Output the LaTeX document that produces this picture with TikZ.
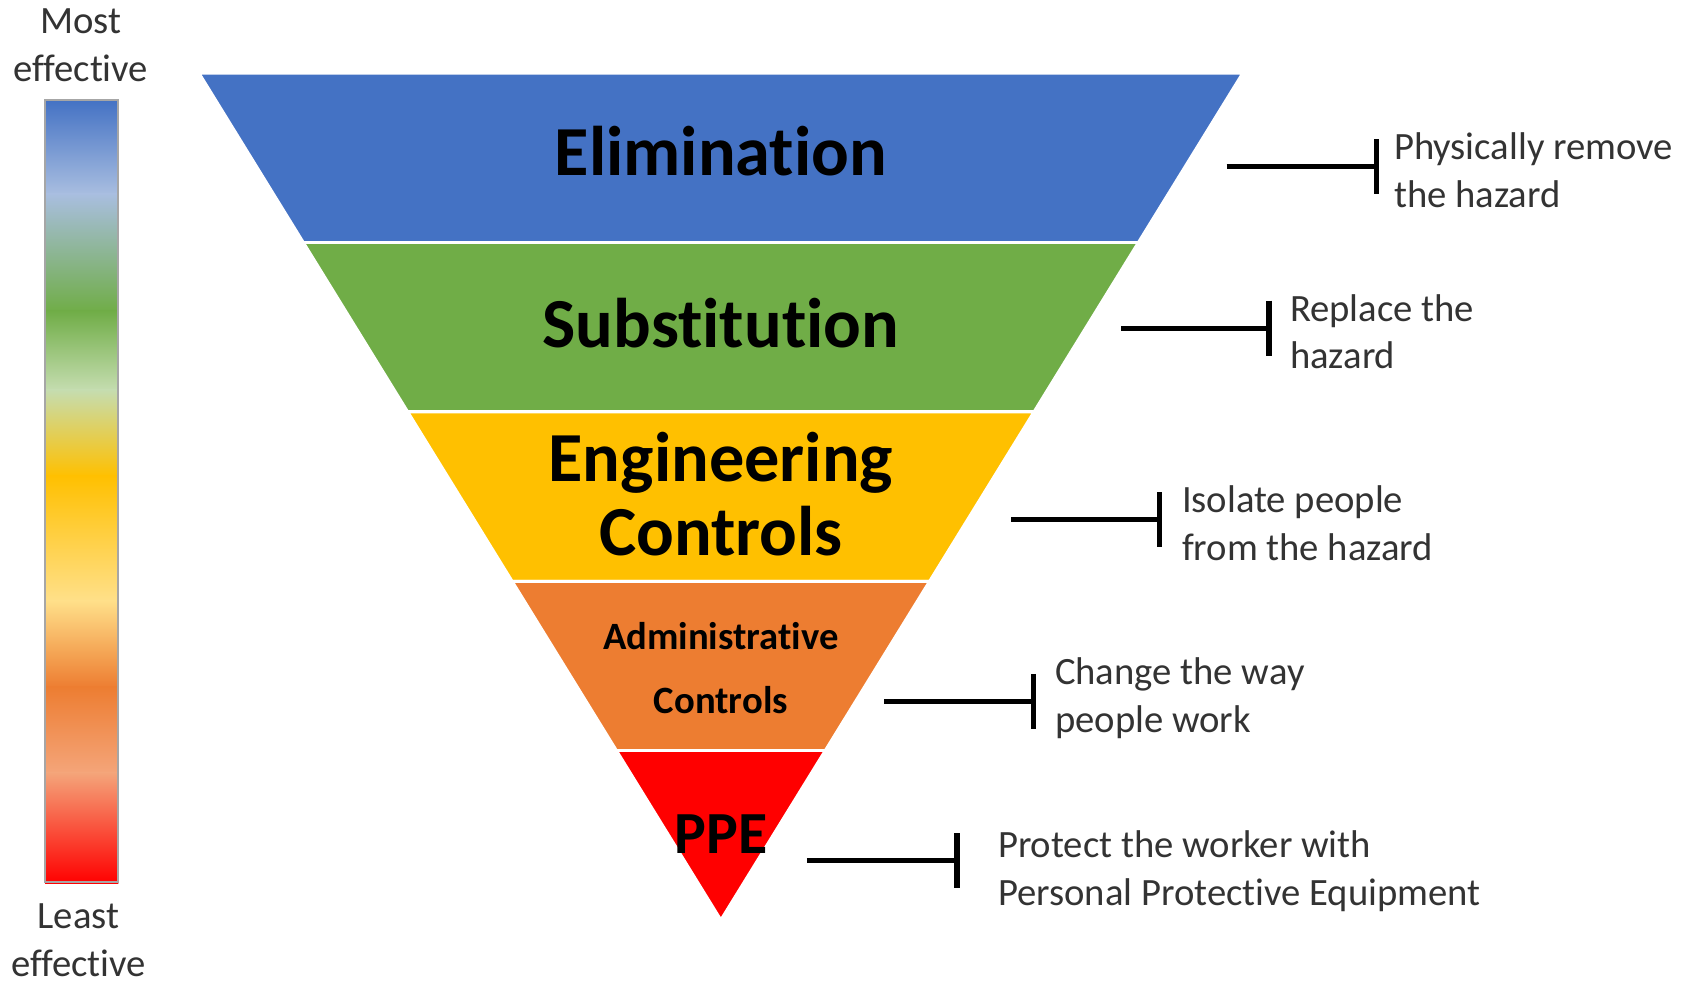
\documentclass[tikz,border=0pt]{standalone}
\usepackage{fontspec}
\setmainfont{Carlito}[Ligatures=NoCommon]
\usepackage{xcolor}
\usepackage{tikz}
\usetikzlibrary{arrows.meta,positioning,calc}

\definecolor{hblue}{HTML}{4472C4}
\definecolor{hgreen}{HTML}{70AD47}
\definecolor{hgold}{HTML}{FFC000}
\definecolor{horange}{HTML}{ED7D31}
\definecolor{hred}{HTML}{FF0000}
\definecolor{hpaleblue}{HTML}{A9BEE0}
\definecolor{hpalegreen}{HTML}{C5DDB0}
\definecolor{hpaleyellow}{HTML}{FFE08A}
\definecolor{hsalmon}{HTML}{F4A57A}

\begin{document}
\begin{tikzpicture}[
    x=0.010759cm, y=-0.010759cm,
    band/.style={draw=white, line width=0.8pt, line join=round},
    bandlabel/.style={align=center, font=\bfseries\fontsize{20}{21}\selectfont, inner sep=0pt},
    smalllabel/.style={align=center, font=\bfseries\fontsize{11}{18}\selectfont, inner sep=0pt},
    note/.style={align=left, inner sep=0pt, text=black!80, font=\fontsize{11}{13.5}\selectfont},
    scale label/.style={align=center, inner sep=0pt, text=black!80, font=\fontsize{11}{13.5}\selectfont},
    barline/.style={-{Bar[width=0.55cm]}, line width=1.5pt, draw=black}
]
    \useasboundingbox (0,0) rectangle (1568,913);

    % hierarchy triangle
    \coordinate (tl) at (185,68);
    \coordinate (tr) at (1155,68);
    \coordinate (apex) at (670,855);
    \foreach \t/\n in {0.2/1,0.4/2,0.6/3,0.8/4} {
        \coordinate (l\n) at ($(tl)!\t!(apex)$);
        \coordinate (r\n) at ($(tr)!\t!(apex)$);
    }
    \fill [band, fill=hblue] (tl) -- (tr) -- (r1) -- (l1) -- cycle;
    \fill [band, fill=hgreen] (l1) -- (r1) -- (r2) -- (l2) -- cycle;
    \fill [band, fill=hgold] (l2) -- (r2) -- (r3) -- (l3) -- cycle;
    \fill [band, fill=horange] (l3) -- (r3) -- (r4) -- (l4) -- cycle;
    \fill [band, fill=hred] (l4) -- (r4) -- (apex) -- cycle;
    \draw [band] (l1) -- (r1) (l2) -- (r2) (l3) -- (r3) (l4) -- (r4);

    \node [bandlabel] (elim) at (670,140) {Elimination};
    \node [bandlabel] (subst) at (670,300) {Substitution};
    \node [bandlabel] (eng) at (670,459) {Engineering\\Controls};
    \node [smalllabel] (admin) at (670,621) {Administrative\\Controls};
    \node [bandlabel, font=\bfseries\fontsize{17}{18}\selectfont] (ppe) at (670,775) {PPE};

    % descriptions
    \coordinate (s1) at (1140,155);  \coordinate (e1) at (1282,155);
    \coordinate (s2) at (1042,305);  \coordinate (e2) at (1182,305);
    \coordinate (s3) at (940,483);   \coordinate (e3) at (1080,483);
    \coordinate (s4) at (822,652);   \coordinate (e4) at (963,652);
    \coordinate (s5) at (750,800);   \coordinate (e5) at (892,800);

    \node [note, right=4pt of e1, yshift=-1pt] (d1) {Physically remove\\the hazard};
    \node [note, right=5pt of e2, yshift=-1pt] (d2) {Replace the\\hazard};
    \node [note, right=5.5pt of e3, yshift=-1pt] (d3) {Isolate people\\from the hazard};
    \node [note, right=5.2pt of e4, yshift=1pt] (d4) {Change the way\\people work};
    \node [note, right=10.7pt of e5, yshift=-3pt] (d5) {Protect the worker with\\Personal Protective Equipment};

    \draw [barline] (s1) -- (e1);
    \draw [barline] (s2) -- (e2);
    \draw [barline] (s3) -- (e3);
    \draw [barline] (s4) -- (e4);
    \draw [barline] (s5) -- (e5);

    % effectiveness scale
    \foreach \ya/\yb/\ca/\cb in {93/180/hblue/hpaleblue, 180/289/hpaleblue/hgreen,
        289/362/hgreen/hpalegreen, 362/442/hpalegreen/hgold, 442/558/hgold/hpaleyellow,
        558/638/hpaleyellow/horange, 638/718/horange/hsalmon, 718/820/hsalmon/hred} {
        \shade [top color=\ca, bottom color=\cb] (42,\ya) rectangle (110,\yb+1);
    }
    \draw [gray!70, line width=0.5pt] (42,93) rectangle (110,820);
    \node [scale label] (most) at (75,42) {Most\\effective};
    \node [scale label] (least) at (73,874) {Least\\effective};
\end{tikzpicture}
\end{document}
